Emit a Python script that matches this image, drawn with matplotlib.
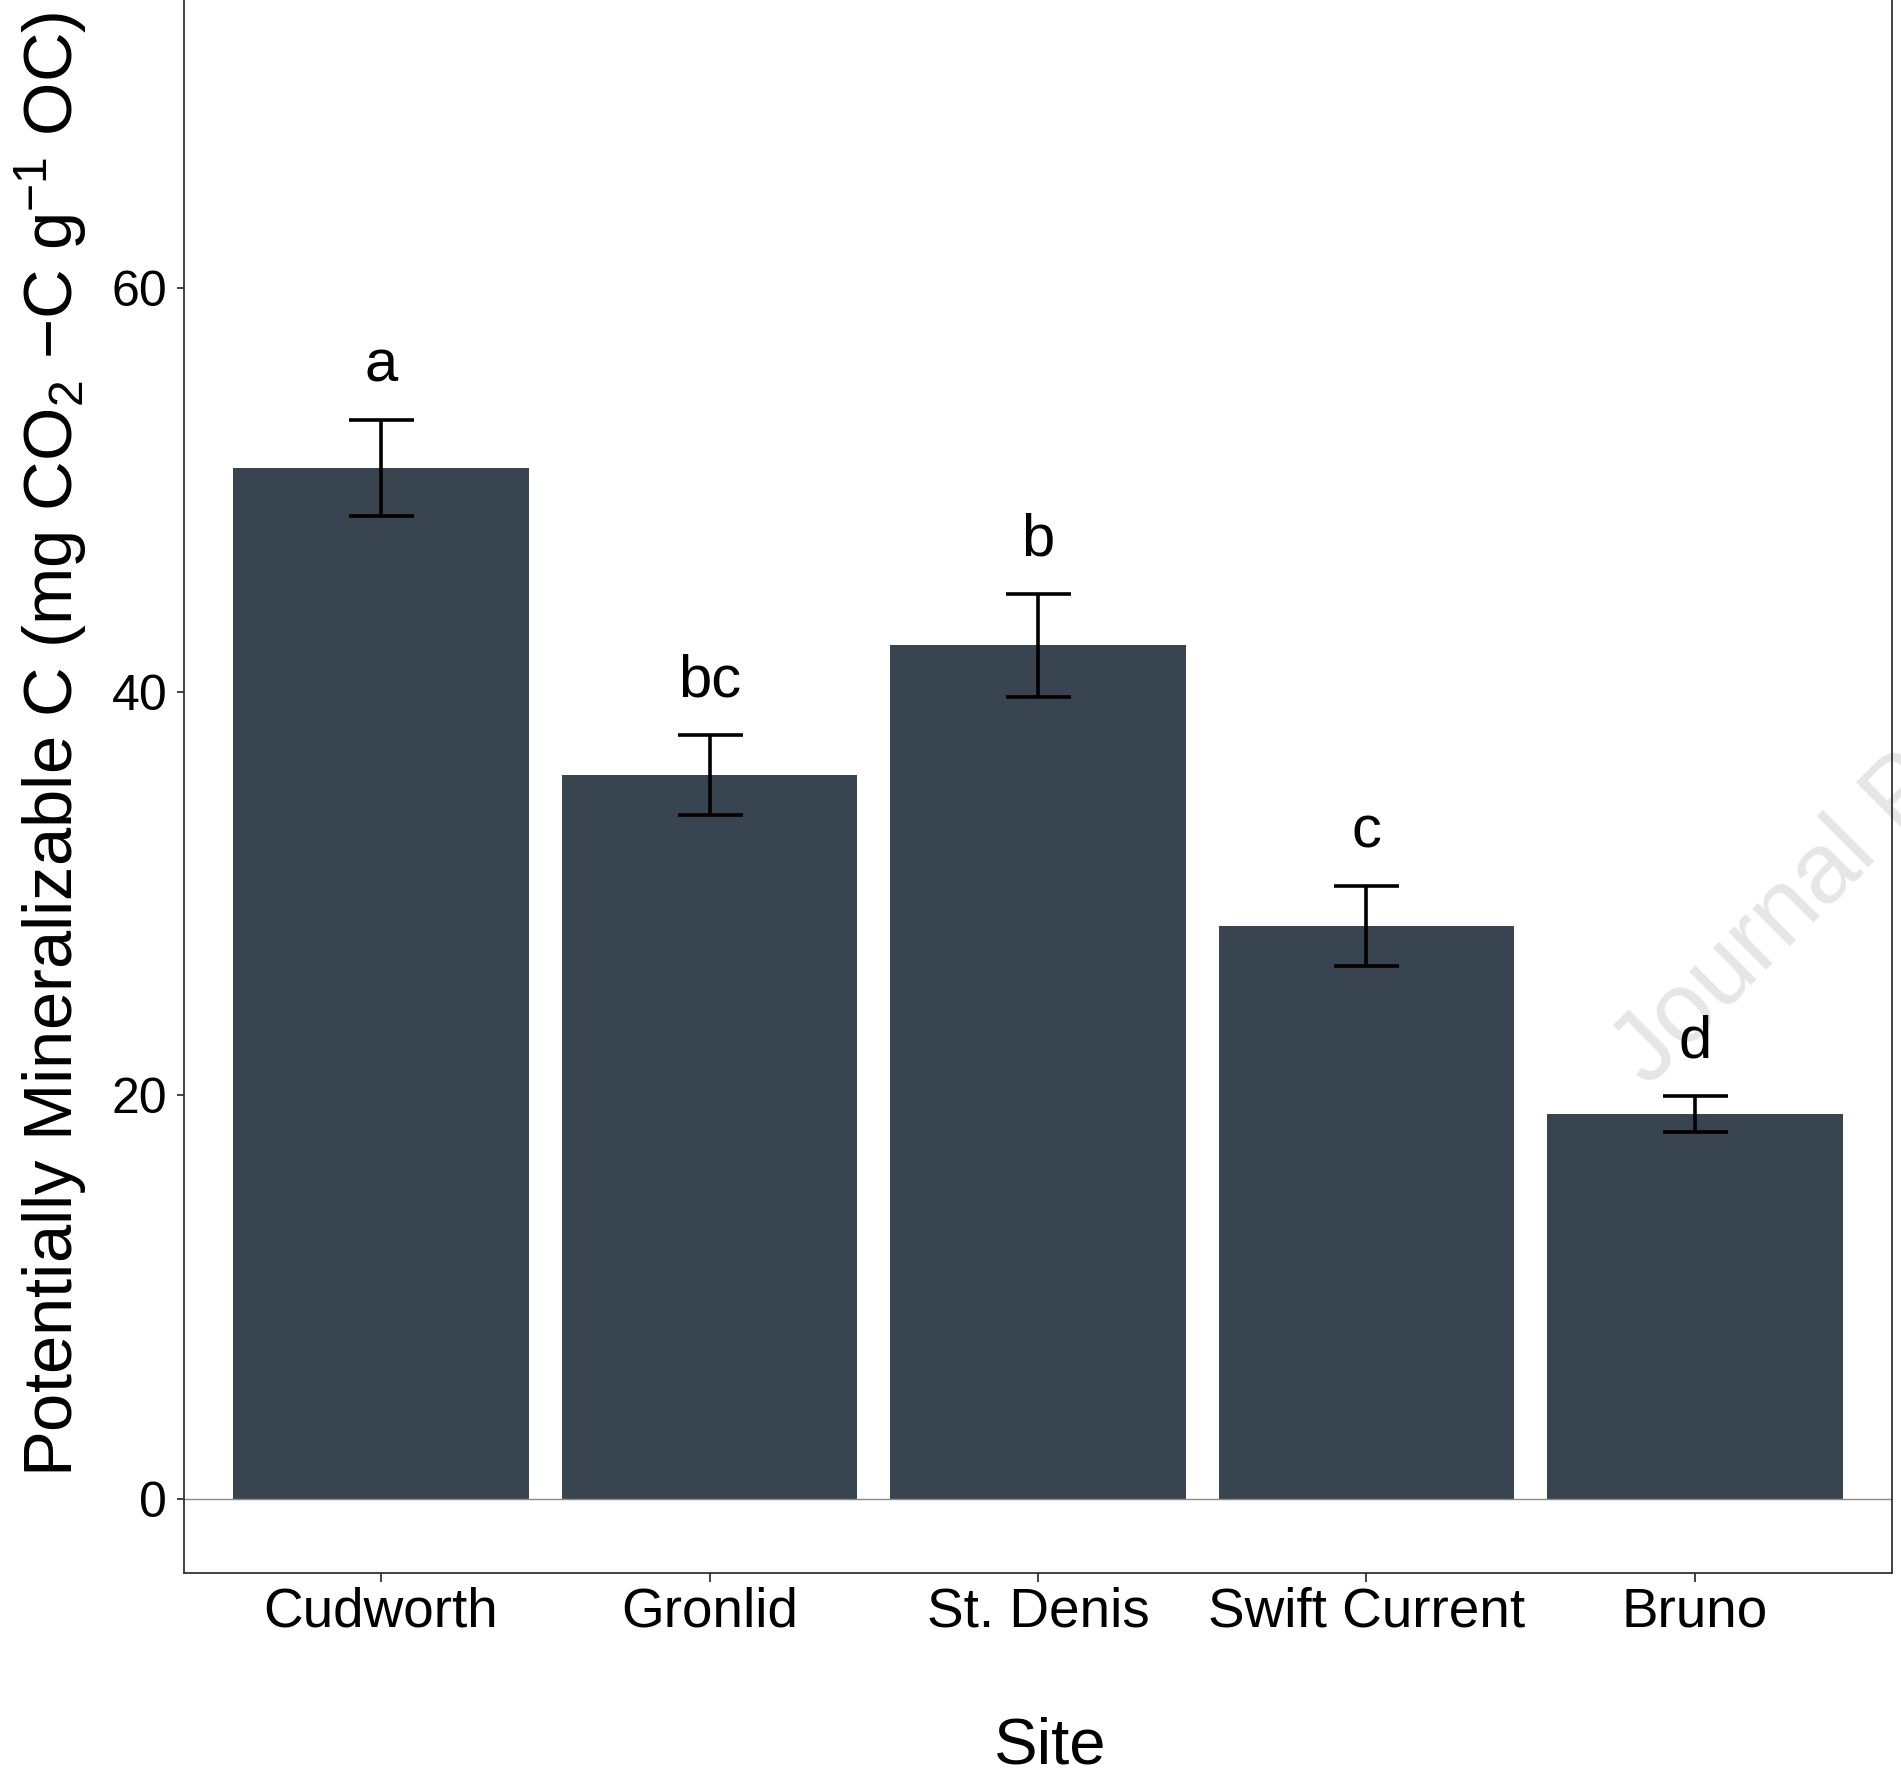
import matplotlib
matplotlib.use("Agg")
import matplotlib.pyplot as plt
import numpy as np

plt.rcParams['font.family'] = ['Liberation Sans', 'DejaVu Sans']
plt.rcParams['mathtext.fontset'] = 'custom'
plt.rcParams['mathtext.rm'] = 'Liberation Sans'
plt.rcParams['mathtext.it'] = 'Liberation Sans:italic'
plt.rcParams['mathtext.bf'] = 'Liberation Sans:bold'
plt.rcParams['mathtext.default'] = 'regular'

# Mean potentially mineralizable C per site, with standard errors and group letters
sites = ["Cudworth", "Gronlid", "St. Denis", "Swift Current", "Bruno"]
mean_c = [51.1, 35.9, 42.3, 28.4, 19.1]
se_c = [2.38, 1.98, 2.54, 1.99, 0.89]
groups = ["a", "bc", "b", "c", "d"]
y_ticks = [0, 20, 40, 60]

W, H = 1901, 1777
fig = plt.figure(figsize=(W / 100, H / 100), dpi=100)

left_px, right_px = 184, 1892
bottom_px, top_px = 1573, -85
ax = fig.add_axes([left_px / W, 1 - bottom_px / H,
                   (right_px - left_px) / W, (bottom_px - top_px) / H])

x = np.arange(1, len(sites) + 1)
ax.bar(x, mean_c, width=0.9, color="#384550", zorder=1)
ax.errorbar(x, mean_c, yerr=se_c, fmt="none", ecolor="black",
            elinewidth=2.6, capsize=23.4, capthick=2.6, zorder=3)
ax.axhline(0, color="#8a8a8a", linewidth=1.0, zorder=2)

for xi, m, s, g in zip(x, mean_c, se_c, groups):
    ax.text(xi, m + s + 1.9, g, ha="center", va="baseline",
            fontsize=43, color="black", zorder=4)

# faint journal watermark
ax.text(1648 / W, 1 - 1088 / H, "Journal Pre-proof", transform=fig.transFigure,
        rotation=45, rotation_mode="anchor", ha="left", va="baseline",
        fontsize=72, color="#e6e6e6", zorder=0.5, clip_on=False)

ax.set_xlim(0.4, 5.6)
ax.set_ylim(-3.67, 78.5)
ax.set_xticks(x)
ax.set_xticklabels(sites)
ax.set_yticks(y_ticks)

for side in ["left", "right", "bottom"]:
    ax.spines[side].set_color("#333333")
    ax.spines[side].set_linewidth(1.3)
ax.spines["top"].set_visible(False)

ax.tick_params(axis="y", labelsize=36, length=5, width=1.3,
               color="#333333", pad=7, labelcolor="black")
ax.tick_params(axis="x", labelsize=39.5, length=6.5, width=1.3,
               color="#333333", pad=3, labelcolor="black")

ax.set_ylabel(r"Potentially Mineralizable C (mg CO$_2$ $-$C g$^{-1}$ OC)",
              fontsize=49.5, color="black")
ax.yaxis.set_label_coords((89 - left_px) / (right_px - left_px), 0.5)
ax.set_xlabel("Site", fontsize=47, color="black")
ax.xaxis.set_label_coords((1050 - left_px) / (right_px - left_px),
                          (bottom_px - 1717) / (bottom_px - top_px))

fig.savefig("out.png", dpi=100, facecolor="white")
